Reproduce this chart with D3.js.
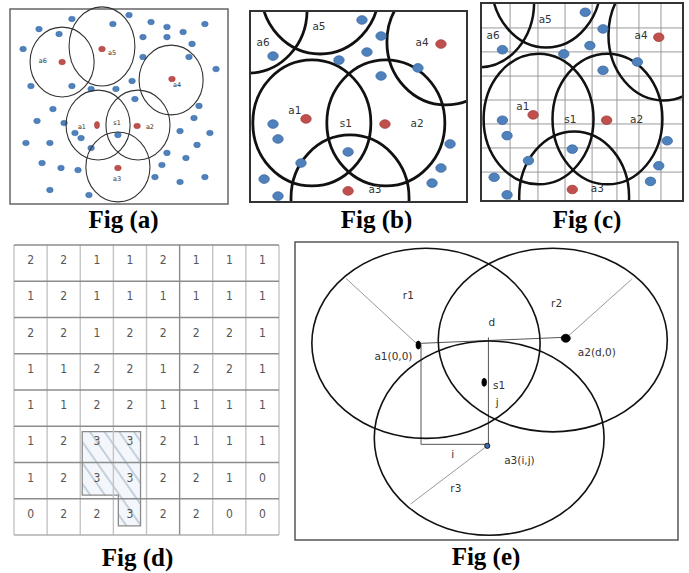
<!DOCTYPE html>
<meta charset="utf-8">
<style>
body { margin: 0; background: #fff; }
.cap { font-family: "Liberation Serif", "Times New Roman", serif; font-weight: bold; font-size: 25px; text-anchor: middle; fill: #000; }
.lbl { font-family: "DejaVu Sans", Verdana, sans-serif; fill: #333; text-anchor: middle; dominant-baseline: central; }
.num { font-family: "DejaVu Sans Condensed", "Liberation Sans Narrow", sans-serif; font-stretch: condensed; fill: #555; font-size: 12px; text-anchor: middle; dominant-baseline: central; }
</style>
<svg width="689" height="573"></svg>
<script src="https://d3js.org/d3.v7.min.js"></script>
<script>
// ---- Fig (a): sensor field, units 0..100 inside the frame
const aBlue = [
  [54.6,3.1],[28.4,5.1],[13.3,10.3],[47.2,7.7],[64.7,6.7],[72.0,9.2],[89.4,7.7],[79.4,11.8],
  [22.5,12.8],[61.0,14.4],[72.0,14.4],[83.5,17.9],[6.0,20.5],[61.0,24.6],[82.1,24.6],[94.5,30.8],
  [9.6,39.5],[28.4,39.5],[37.2,41.0],[48.6,41.0],[56.0,36.9],[57.3,46.2],[86.7,49.7],[19.7,51.3],
  [12.4,57.4],[24.8,58.5],[84.4,55.9],[78.0,62.6],[91.7,63.6],[29.8,63.6],[32.6,66.2],[49.5,64.6],
  [7.3,68.7],[18.3,68.7],[37.2,71.3],[85.8,69.7],[72.0,73.8],[80.7,76.4],[14.7,79.0],[23.4,81.5],
  [31.2,82.6],[69.7,80.0],[66.5,86.2],[78.0,88.7],[89.4,86.2],[18.3,92.8],[36.2,95.4]
];
const aRed = [[23.9,27.2],[42.2,20.5],[74.3,35.9],[39.9,59.5],[58.3,60.0],[49.5,81.5]];
// [cx, cy, rx, ry]
const aCircles = [
  [23.9,27.2,14.7,17.9],[42.2,19.2,15.1,20.3],[73.9,36.4,14.7,17.9],
  [40.4,59.5,14.7,17.9],[58.7,59.5,14.7,17.9],[49.5,81.0,14.7,17.9]
];
const aLabels = [["a6",15.1,26.7],["a5",46.8,22.6],["a4",76.6,39.0],["a1",33.0,60.5],
  ["s1",49.1,58.5],["a2",64.2,60.5],["a3",49.1,87.2]];

// ---- Fig (b) / Fig (c): zoomed scene, same units, two scalings
const bBlue = [
  [51.6,4.7],[60.4,13.1],[10.6,23.6],[53.9,21.5],[41.0,25.7],[77.4,29.8],[60.4,34.0],[10.6,59.2],
  [12.9,67.0],[45.2,73.8],[92.2,69.6],[23.5,79.6],[88.0,82.2],[6.5,88.0],[83.9,90.1],[12.9,96.9]
];
const bRed = [[25.8,56.5],[62.2,59.2],[88.0,17.3],[45.2,94.2]];
const bCircles = [[28.5,58.6],[62.6,58.6],[46.1,97.9],[32.3,-10.5],[-0.9,-0.5],[90.3,16.2]];
const bRadius = [27.2, 33];
const bLabels = [["a5",31.8,7.9],["a6",6.0,16.2],["a4",79.3,16.2],["a1",20.7,51.8],
  ["s1",44.2,58.6],["a2",77.0,58.6],["a3",57.6,93.2]];
const cGridX = [14.4,28.2,41.6,55.0,67.3,78.2,89.1];
const cGridY = [12.6,24.7,36.9,49.0,61.1,73.2,85.4];

// ---- Fig (d): coverage counts
const dCounts = [
  [2,2,1,1,2,1,1,1],
  [1,2,1,1,1,1,1,1],
  [2,2,1,2,2,2,2,1],
  [1,1,2,2,1,2,2,1],
  [1,1,2,2,1,1,1,1],
  [1,2,3,3,2,1,1,1],
  [1,2,3,3,2,2,1,0],
  [0,2,2,3,2,2,0,0]
];
const dRegion = [[2.06,5.15],[3.82,5.15],[3.82,7.75],[3.15,7.75],[3.15,6.9],[2.06,6.9]];

// ---- Fig (e): trilateration, units 0..100 inside the frame
const eEllipses = [[34.2,34.0,29.8,31.9],[67.3,32.9,29.9,30.8],[50.7,65.8,30.0,32.6]];
const eRadii = [[[13.3,12.2],[32.2,34.6]],[[70.7,32.3],[87.9,12.5]],[[50.2,68.4],[30.2,87.9]]];
const eGuides = [
  [[32.9,34.0],[70.1,32.0]],
  [[50.5,32.0],[50.5,68.4]],
  [[32.9,34.3],[32.9,67.9],[50.2,67.9]]
];
const eLabels = [["r1",29.6,17.8],["r2",68.3,20.6],["d",51.4,26.7],["a1(0,0)",25.7,38.3],
  ["a2(d,0)",78.8,36.8],["s1",53.3,48.0],["j",52.8,53.6],["i",41.2,71.1],["a3(i,j)",58.6,73.2],["r3",42.0,82.7]];

const captions = [["Fig (a)",123.5,228],["Fig (b)",376.5,228],["Fig (c)",587,228],["Fig (d)",137.5,566],["Fig (e)",486,565]];

const svg = d3.select("svg");
const defs = svg.append("defs");
const BLUE = "#4f81bd", BLUE_S = "#3b6aa0", RED = "#c0504d", RED_S = "#a33d3a";

// ---------- Fig (a)
{
  const x = d3.scaleLinear([0,100],[10,228]);
  const y = d3.scaleLinear([0,100],[9,204]);
  const g = svg.append("g");
  g.append("rect").attr("x",x(0)).attr("y",y(0)).attr("width",x(100)-x(0)).attr("height",y(100)-y(0))
    .attr("fill","#fff").attr("stroke","#666").attr("stroke-width",1.5);
  g.selectAll(".blue").data(aBlue).join("ellipse")
    .attr("cx",d=>x(d[0])).attr("cy",d=>y(d[1])).attr("rx",3.3).attr("ry",2.8)
    .attr("fill",BLUE).attr("stroke",BLUE_S).attr("stroke-width",0.5);
  g.selectAll(".circ").data(aCircles).join("ellipse")
    .attr("cx",d=>x(d[0])).attr("cy",d=>y(d[1]))
    .attr("rx",d=>x(d[2])-x(0)).attr("ry",d=>y(d[3])-y(0))
    .attr("fill","none").attr("stroke","#333").attr("stroke-width",1.1);
  g.selectAll(".red").data(aRed).join("ellipse")
    .attr("cx",d=>x(d[0])).attr("cy",d=>y(d[1])).attr("rx",(d,i)=>i==3?2.6:3.3).attr("ry",(d,i)=>i==3?3.6:2.8)
    .attr("fill",RED).attr("stroke",RED_S).attr("stroke-width",0.5);
  g.selectAll(".lbl").data(aLabels).join("text").attr("class","lbl")
    .attr("x",d=>x(d[1])).attr("y",d=>y(d[2])).attr("font-size",6.5).text(d=>d[0]);
}

// ---------- Fig (b) and (c)
function zoomPanel(id, box, grid, sw) {
  const x = d3.scaleLinear([0,100],[box[0],box[2]]);
  const y = d3.scaleLinear([0,100],[box[1],box[3]]);
  defs.append("clipPath").attr("id",id).append("rect")
    .attr("x",x(0)).attr("y",y(0)).attr("width",x(100)-x(0)).attr("height",y(100)-y(0));
  const g = svg.append("g");
  g.append("rect").attr("x",x(0)).attr("y",y(0)).attr("width",x(100)-x(0)).attr("height",y(100)-y(0))
    .attr("fill","#fff");
  const inner = g.append("g").attr("clip-path",`url(#${id})`);
  if (grid) {
    inner.selectAll(".gx").data(cGridX).join("line")
      .attr("x1",d=>x(d)).attr("x2",d=>x(d)).attr("y1",y(0)).attr("y2",y(100))
      .attr("stroke","#9a9a9a").attr("stroke-width",1);
    inner.selectAll(".gy").data(cGridY).join("line")
      .attr("y1",d=>y(d)).attr("y2",d=>y(d)).attr("x1",x(0)).attr("x2",x(100))
      .attr("stroke","#9a9a9a").attr("stroke-width",1);
  }
  inner.selectAll(".circ").data(bCircles).join("ellipse")
    .attr("cx",d=>x(d[0])).attr("cy",d=>y(d[1]))
    .attr("rx",x(bRadius[0])-x(0)).attr("ry",y(bRadius[1])-y(0))
    .attr("fill","none").attr("stroke","#111").attr("stroke-width",sw);
  inner.selectAll(".blue").data(bBlue).join("ellipse")
    .attr("cx",d=>x(d[0])).attr("cy",d=>y(d[1])).attr("rx",5.2).attr("ry",4.3)
    .attr("fill",BLUE).attr("stroke",BLUE_S).attr("stroke-width",0.8);
  inner.selectAll(".red").data(bRed).join("ellipse")
    .attr("cx",d=>x(d[0])).attr("cy",d=>y(d[1])).attr("rx",5.2).attr("ry",4.3)
    .attr("fill",RED).attr("stroke",RED_S).attr("stroke-width",0.8);
  inner.selectAll(".lbl").data(bLabels).join("text").attr("class","lbl")
    .attr("x",d=>x(d[1])).attr("y",d=>y(d[2])).attr("font-size",10.5).text(d=>d[0]);
  g.append("rect").attr("x",x(0)).attr("y",y(0)).attr("width",x(100)-x(0)).attr("height",y(100)-y(0))
    .attr("fill","none").attr("stroke","#333").attr("stroke-width",2);
}
zoomPanel("clipB",[250,11,467,202],false,2.8);
zoomPanel("clipC",[481,3,683,201],true,2.5);

// ---------- Fig (d)
{
  const x = d3.scaleLinear([0,8],[14,279]);
  const y = d3.scaleLinear([0,8],[245,535]);
  const g = svg.append("g");
  const pat = defs.append("pattern").attr("id","hatch").attr("patternUnits","userSpaceOnUse")
    .attr("width",12).attr("height",12).attr("patternTransform","rotate(-35)");
  pat.append("rect").attr("width",12).attr("height",12).attr("fill","#f3f7fb");
  pat.append("line").attr("x1",6).attr("x2",6).attr("y1",0).attr("y2",12)
    .attr("stroke","#9fb0c4").attr("stroke-width",1.1);
  g.append("path").attr("d",d3.line().x(d=>x(d[0])).y(d=>y(d[1]))(dRegion)+"Z")
    .attr("fill","url(#hatch)").attr("stroke","#8a8a8a").attr("stroke-width",1.3);
  g.selectAll(".vl").data(d3.range(9)).join("line")
    .attr("x1",d=>x(d)).attr("x2",d=>x(d)).attr("y1",y(0)).attr("y2",y(8))
    .attr("stroke",d=>d==5?"#8c8c8c":"#c4c4c4").attr("stroke-width",1.4);
  g.selectAll(".hl").data(d3.range(9)).join("line")
    .attr("y1",d=>y(d)).attr("y2",d=>y(d)).attr("x1",x(0)).attr("x2",x(8))
    .attr("stroke",d=>d==8?"#b0b0b0":"#8c8c8c").attr("stroke-width",1.6);
  const cells = dCounts.flatMap((row,r)=>row.map((v,c)=>({r,c,v})));
  g.selectAll(".num").data(cells).join("text").attr("class","num")
    .attr("x",d=>x(d.c+0.5)).attr("y",d=>y(d.r+0.42)).text(d=>d.v);
}

// ---------- Fig (e)
{
  const x = d3.scaleLinear([0,100],[295,678]);
  const y = d3.scaleLinear([0,100],[242,540]);
  const g = svg.append("g");
  g.append("rect").attr("x",x(0)).attr("y",y(0)).attr("width",x(100)-x(0)).attr("height",y(100)-y(0))
    .attr("fill","#fff").attr("stroke","#555").attr("stroke-width",1.5);
  const line = d3.line().x(d=>x(d[0])).y(d=>y(d[1]));
  g.selectAll(".rad").data(eRadii).join("path").attr("d",line)
    .attr("fill","none").attr("stroke","#999").attr("stroke-width",1);
  g.selectAll(".guide").data(eGuides).join("path").attr("d",line)
    .attr("fill","none").attr("stroke","#555").attr("stroke-width",1);
  g.selectAll(".ell").data(eEllipses).join("ellipse")
    .attr("cx",d=>x(d[0])).attr("cy",d=>y(d[1]))
    .attr("rx",d=>x(d[2])-x(0)).attr("ry",d=>y(d[3])-y(0))
    .attr("fill","none").attr("stroke","#111").attr("stroke-width",1.6);
  const pts = [[32.2,34.6,2.3,4,"#000"],[70.7,32.3,4.5,4,"#000"],[49.4,47.1,2.3,4,"#000"],[50.2,68.4,2.6,2.6,"#3d6fb0"]];
  g.selectAll(".pt").data(pts).join("ellipse")
    .attr("cx",d=>x(d[0])).attr("cy",d=>y(d[1])).attr("rx",d=>d[2]).attr("ry",d=>d[3])
    .attr("fill",d=>d[4]).attr("stroke","#000").attr("stroke-width",0.8);
  g.selectAll(".lbl").data(eLabels).join("text").attr("class","lbl")
    .attr("x",d=>x(d[1])).attr("y",d=>y(d[2])).attr("font-size",10.5).attr("fill","#222").text(d=>d[0]);
}

svg.selectAll(".cap").data(captions).join("text").attr("class","cap")
  .attr("x",d=>d[1]).attr("y",d=>d[2]).text(d=>d[0]);
</script>
